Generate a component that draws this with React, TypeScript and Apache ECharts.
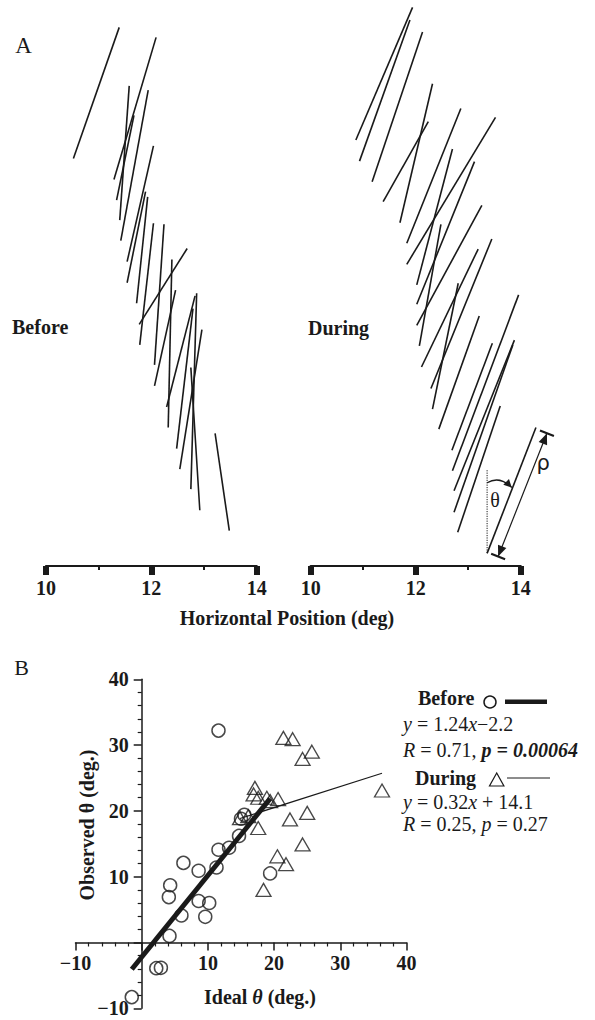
import React, { useEffect, useRef } from 'react';
import * as echarts from 'echarts';

const FONT = '"Liberation Serif", "Times New Roman", serif';
const INK = '#1a1a1a';

// Panel A: segments [x1, y1, x2, y2] in degrees (horizontal, vertical)
const beforeSegments: number[][] = [
  [11.39, 10.23, 10.52, 7.74],
  [12.09, 10.04, 11.29, 7.34],
  [11.58, 9.12, 11.40, 6.57],
  [11.94, 9.04, 11.42, 6.18],
  [11.67, 8.56, 11.34, 6.95],
  [12.04, 7.98, 11.54, 5.78],
  [11.89, 7.11, 11.54, 5.38],
  [11.93, 7.01, 11.72, 4.99],
  [12.04, 6.51, 11.78, 4.20],
  [12.24, 6.49, 12.06, 3.82],
  [12.68, 6.03, 11.77, 4.59],
  [12.39, 5.82, 12.32, 2.63],
  [12.46, 5.24, 12.06, 3.42],
  [12.83, 5.13, 12.29, 3.02],
  [12.86, 5.18, 12.75, 1.46],
  [12.79, 4.89, 12.48, 2.23],
  [12.96, 4.49, 12.54, 1.84],
  [12.75, 3.77, 12.92, 1.06],
  [13.21, 2.52, 13.48, 0.67],
];

const duringSegments: number[][] = [
  [11.94, 10.61, 10.86, 8.09],
  [11.89, 10.37, 10.93, 7.69],
  [12.13, 10.14, 11.17, 7.30],
  [12.32, 9.16, 11.70, 6.52],
  [12.24, 8.44, 11.38, 6.92],
  [12.86, 8.69, 11.83, 6.13],
  [13.52, 8.52, 11.83, 5.73],
  [12.70, 7.92, 12.02, 5.34],
  [13.12, 7.68, 12.02, 4.97],
  [13.26, 6.85, 12.02, 4.57],
  [12.48, 6.49, 12.07, 4.18],
  [13.19, 6.02, 12.11, 3.78],
  [13.45, 6.21, 12.29, 3.37],
  [12.81, 5.37, 12.32, 2.98],
  [13.21, 4.75, 12.44, 2.60],
  [13.46, 4.23, 12.69, 2.20],
  [13.96, 5.15, 12.70, 1.81],
  [13.88, 4.29, 12.73, 1.43],
  [13.85, 4.20, 12.73, 1.02],
  [13.61, 3.04, 12.80, 0.64],
];

// Illustration of theta / rho (degrees)
const exampleSegment = [14.29, 2.63, 13.36, 0.24];
const rhoSegment = [14.50, 2.52, 13.57, 0.18];
const verticalRef = [13.36, 1.82, 13.36, 0.24];
const thetaArc = [13.36, 1.58, 13.60, 1.72, 13.83, 1.49];
const thetaLabelAt = [13.51, 1.25];
const rhoLabelAt = [14.43, 1.95];

const horizTicks = [10, 12, 14];

// Panel B
const beforeIdeal = [11.6, 15.5, 15.0, 14.7, 13.2, 11.6, 11.3, 8.6, 6.3, 4.3, 4.1, 8.6, 10.2, 6.0, 9.6, 4.2, 19.4, 2.2, 2.9, -1.5];
const beforeObserved = [32.2, 19.4, 18.8, 16.2, 14.4, 14.1, 11.4, 10.9, 12.1, 8.7, 6.9, 6.3, 6.0, 4.1, 3.9, 1.0, 10.5, -3.9, -3.85, -8.3];
const duringIdeal = [21.4, 22.8, 17.1, 16.9, 17.6, 18.9, 19.4, 20.6, 14.85, 16.1, 17.6, 22.4, 20.5, 21.8, 18.4, 24.3, 25.7, 36.3, 25.0, 24.3];
const duringObserved = [31.1, 30.9, 23.5, 22.5, 22.0, 22.0, 21.5, 21.8, 18.9, 19.2, 17.4, 18.7, 13.1, 11.9, 8.0, 27.9, 29.0, 23.1, 19.7, 14.9];
const beforeFit = { slope: 1.24, intercept: -2.2 };
const duringFit = { slope: 0.32, intercept: 14.1 };

const fitLine = (xs: number[], fit: { slope: number; intercept: number }) => {
  const lo = Math.min(...xs);
  const hi = Math.max(...xs);
  return [
    [lo, fit.slope * lo + fit.intercept],
    [hi, fit.slope * hi + fit.intercept],
  ];
};

const segRender = (params: any, api: any) => {
  const a = api.coord([api.value(0), api.value(1)]);
  const b = api.coord([api.value(2), api.value(3)]);
  return {
    type: 'line',
    shape: { x1: a[0], y1: a[1], x2: b[0], y2: b[1] },
    style: { stroke: INK, lineWidth: 1.6 },
  };
};

const annotationRender = (params: any, api: any) => {
  const c = (x: number, y: number) => api.coord([x, y]);
  const e1 = c(exampleSegment[0], exampleSegment[1]);
  const e2 = c(exampleSegment[2], exampleSegment[3]);
  const r1 = c(rhoSegment[0], rhoSegment[1]);
  const r2 = c(rhoSegment[2], rhoSegment[3]);
  const v1 = c(verticalRef[0], verticalRef[1]);
  const v2 = c(verticalRef[2], verticalRef[3]);
  const a0 = c(thetaArc[0], thetaArc[1]);
  const ac = c(thetaArc[2], thetaArc[3]);
  const a1 = c(thetaArc[4], thetaArc[5]);
  const tl = c(thetaLabelAt[0], thetaLabelAt[1]);
  const rl = c(rhoLabelAt[0], rhoLabelAt[1]);

  const children: any[] = [];
  children.push({ type: 'line', shape: { x1: e1[0], y1: e1[1], x2: e2[0], y2: e2[1] }, style: { stroke: INK, lineWidth: 1.6 } });
  children.push({ type: 'line', shape: { x1: v1[0], y1: v1[1], x2: v2[0], y2: v2[1] }, style: { stroke: INK, lineWidth: 1, lineDash: [1.2, 1.2] } });
  children.push({ type: 'line', shape: { x1: r1[0], y1: r1[1], x2: r2[0], y2: r2[1] }, style: { stroke: INK, lineWidth: 1.2 } });

  const dx = r1[0] - r2[0];
  const dy = r1[1] - r2[1];
  const len = Math.hypot(dx, dy);
  const ux = dx / len, uy = dy / len;
  const nx = -uy, ny = ux;
  const head = (tip: number[], dir: number) => {
    const bx = tip[0] - dir * ux * 11;
    const by = tip[1] - dir * uy * 11;
    return {
      type: 'polygon',
      shape: { points: [[tip[0], tip[1]], [bx + nx * 4.5, by + ny * 4.5], [bx - nx * 4.5, by - ny * 4.5]] },
      style: { fill: INK },
    };
  };
  const bar = (tip: number[]) => ({
    type: 'line',
    shape: { x1: tip[0] + nx * 7.5, y1: tip[1] + ny * 7.5, x2: tip[0] - nx * 7.5, y2: tip[1] - ny * 7.5 },
    style: { stroke: INK, lineWidth: 2.2 },
  });
  children.push(head(r1, 1), head(r2, -1), bar(r1), bar(r2));

  children.push({
    type: 'bezierCurve',
    shape: { x1: a0[0], y1: a0[1], cpx1: ac[0], cpy1: ac[1], x2: a1[0], y2: a1[1] },
    style: { stroke: INK, lineWidth: 1.3, fill: 'none' },
  });
  const adx = a1[0] - ac[0];
  const ady = a1[1] - ac[1];
  const al = Math.hypot(adx, ady);
  const aux = adx / al, auy = ady / al;
  const bx = a1[0] - aux * 8, by = a1[1] - auy * 8;
  children.push({
    type: 'polygon',
    shape: { points: [[a1[0], a1[1]], [bx - auy * 4, by + aux * 4], [bx + auy * 4, by - aux * 4]] },
    style: { fill: INK },
  });
  children.push({ type: 'text', x: tl[0], y: tl[1], style: { text: 'θ', font: `20px ${FONT}`, fill: INK, textAlign: 'center', textVerticalAlign: 'middle' } });
  children.push({ type: 'text', x: rl[0], y: rl[1], style: { text: 'ρ', font: `21px "DejaVu Sans", sans-serif`, fill: INK, textAlign: 'center', textVerticalAlign: 'middle' } });
  return { type: 'group', children };
};

const minusFmt = (v: number) => (v === 0 ? '' : v < 0 ? '−' + Math.abs(v) : String(v));

const panelAxisX = (gridIndex: number) => ({
  gridIndex,
  type: 'value',
  min: 10,
  max: 14,
  interval: 2,
  axisLine: { onZero: false, lineStyle: { color: INK, width: 2.2 } },
  axisTick: { length: 9, lineStyle: { color: INK, width: 6 } },
  minorTick: { show: true, splitNumber: 2, length: 4, lineStyle: { color: INK, width: 2 } },
  splitLine: { show: false },
  axisLabel: {
    formatter: (v: number) => (horizTicks.includes(v) ? String(v) : ''),
    fontFamily: FONT,
    fontWeight: 'bold',
    fontSize: 20,
    color: INK,
    margin: 12,
  },
});

const panelAxisY = (gridIndex: number) => ({
  gridIndex,
  type: 'value',
  min: 0,
  max: 10.75,
  show: false,
});

// Panel B grid geometry: -10..40 on both axes
const B_LEFT = 75.5;
const B_TOP = 679.3;
const B_W = 331;
const B_H = 329;
const bAxisCommon = {
  type: 'value',
  min: -10,
  max: 40,
  interval: 10,
  gridIndex: 2,
  splitLine: { show: false },
  axisTick: { length: 8, lineStyle: { color: INK, width: 1.5 } },
  minorTick: { show: true, splitNumber: 5, length: 4, lineStyle: { color: INK, width: 1.2 } },
  axisLabel: { formatter: minusFmt, fontFamily: FONT, fontWeight: 'bold', fontSize: 20, color: INK, margin: 10 },
};

export default function App() {
  const ref = useRef<HTMLDivElement>(null);
  useEffect(() => {
    document.body.style.margin = '0';
    const chart = echarts.init(ref.current!, null, { renderer: 'svg' });
    const txt = (x: number, y: number, text: string, extra: any = {}, align = 'left', rich?: any, rotation = 0) => ({
      type: 'text',
      x,
      y,
      rotation,
      style: {
        text,
        font: `${extra.weight || 'normal'} ${extra.size || 20}px ${FONT}`,
        fill: INK,
        textAlign: align,
        textVerticalAlign: 'middle',
        rich,
      },
    });
    const richI = { fontStyle: 'italic', fontFamily: FONT, fontSize: 20 };
    // zero lines lie inside the grid: 10 of 50 units from the bottom / left edge
    const xZeroOffset = -(B_H * 10) / 50;
    const yZeroOffset = -(B_W * 10) / 50;
    const option: any = {
      animation: false,
      backgroundColor: '#ffffff',
      grid: [
        { left: 46, top: 0, width: 210.7, height: 566 },
        { left: 310.7, top: 0, width: 210, height: 566 },
        { left: B_LEFT, top: B_TOP, width: B_W, height: B_H },
      ],
      xAxis: [
        panelAxisX(0),
        panelAxisX(1),
        {
          ...bAxisCommon,
          position: 'bottom',
          offset: xZeroOffset,
          axisLine: { onZero: false, lineStyle: { color: INK, width: 1.5 } },
        },
      ],
      yAxis: [
        panelAxisY(0),
        panelAxisY(1),
        {
          ...bAxisCommon,
          position: 'left',
          offset: yZeroOffset,
          axisLine: { onZero: false, lineStyle: { color: INK, width: 1.5 } },
          axisLabel: { ...bAxisCommon.axisLabel, margin: 13 },
        },
      ],
      series: [
        { type: 'custom', name: 'Before segments', xAxisIndex: 0, yAxisIndex: 0, data: beforeSegments, renderItem: segRender, encode: { x: [0, 2], y: [1, 3] }, clip: false, silent: true },
        { type: 'custom', name: 'During segments', xAxisIndex: 1, yAxisIndex: 1, data: duringSegments, renderItem: segRender, encode: { x: [0, 2], y: [1, 3] }, clip: false, silent: true },
        { type: 'custom', name: 'Illustration', xAxisIndex: 1, yAxisIndex: 1, data: [[exampleSegment[0], exampleSegment[1]]], renderItem: annotationRender, clip: false, silent: true },
        {
          type: 'line', name: 'Before fit', xAxisIndex: 2, yAxisIndex: 2,
          data: fitLine(beforeIdeal, beforeFit), showSymbol: false, symbol: 'none',
          lineStyle: { color: INK, width: 5 }, silent: true, z: 2,
        },
        {
          type: 'line', name: 'During fit', xAxisIndex: 2, yAxisIndex: 2,
          data: fitLine(duringIdeal, duringFit), showSymbol: false, symbol: 'none',
          lineStyle: { color: INK, width: 1.2 }, silent: true, z: 2,
        },
        {
          type: 'scatter', name: 'Before', xAxisIndex: 2, yAxisIndex: 2,
          data: beforeIdeal.map((x, i) => [x, beforeObserved[i]]),
          symbol: 'circle', symbolSize: 13,
          itemStyle: { color: 'rgba(255,255,255,0)', borderColor: INK, borderWidth: 1.5 }, z: 3,
        },
        {
          type: 'scatter', name: 'During', xAxisIndex: 2, yAxisIndex: 2,
          data: duringIdeal.map((x, i) => [x, duringObserved[i]]),
          symbol: 'triangle', symbolSize: [15, 13],
          itemStyle: { color: 'rgba(255,255,255,0)', borderColor: INK, borderWidth: 1.3 }, z: 3,
        },
      ],
      graphic: [
        txt(23.5, 45, 'A', { size: 23 }, 'center'),
        txt(12, 327, 'Before', { weight: 'bold' }),
        txt(308, 328, 'During', { weight: 'bold' }),
        txt(287, 618, 'Horizontal Position (deg)', { weight: 'bold' }, 'center'),
        txt(21.5, 667.5, 'B', { size: 22 }, 'center'),
        txt(260, 997, '{b|Ideal }{bi|θ}{b| (deg.)}', { weight: 'bold' }, 'center', {
          b: { fontWeight: 'bold', fontFamily: FONT, fontSize: 20 },
          bi: { fontWeight: 'bold', fontStyle: 'italic', fontFamily: FONT, fontSize: 20 },
        }),
        txt(86.7, 825, 'Observed θ (deg.)', { weight: 'bold' }, 'center', undefined, Math.PI / 2),
        // legend
        txt(418, 698, 'Before', { weight: 'bold' }),
        { type: 'circle', shape: { cx: 490, cy: 702, r: 6 }, style: { fill: 'none', stroke: INK, lineWidth: 1.5 } },
        { type: 'rect', shape: { x: 505, y: 699.5, width: 42, height: 4.6 }, style: { fill: INK } },
        txt(403, 724, '{i|y} = 1.24{i|x}−2.2', {}, 'left', { i: richI }),
        txt(403, 750, '{i|R} = 0.71, {bi|p = 0.00064}', {}, 'left', {
          i: richI,
          bi: { fontStyle: 'italic', fontWeight: 'bold', fontFamily: FONT, fontSize: 20 },
        }),
        txt(415, 778, 'During', { weight: 'bold' }),
        { type: 'polygon', shape: { points: [[496.7, 773], [489.5, 786], [503.9, 786]] }, style: { fill: 'none', stroke: INK, lineWidth: 1.2 } },
        { type: 'line', shape: { x1: 507, y1: 778, x2: 550, y2: 778 }, style: { stroke: INK, lineWidth: 1 } },
        txt(403, 802, '{i|y} = 0.32{i|x} + 14.1', {}, 'left', { i: richI }),
        txt(403, 824, '{i|R} = 0.25, {i|p} = 0.27', {}, 'left', { i: richI }),
      ],
    };
    chart.setOption(option);
    return () => chart.dispose();
  }, []);
  return <div ref={ref} style={{ width: 595, height: 1020 }} />;
}
